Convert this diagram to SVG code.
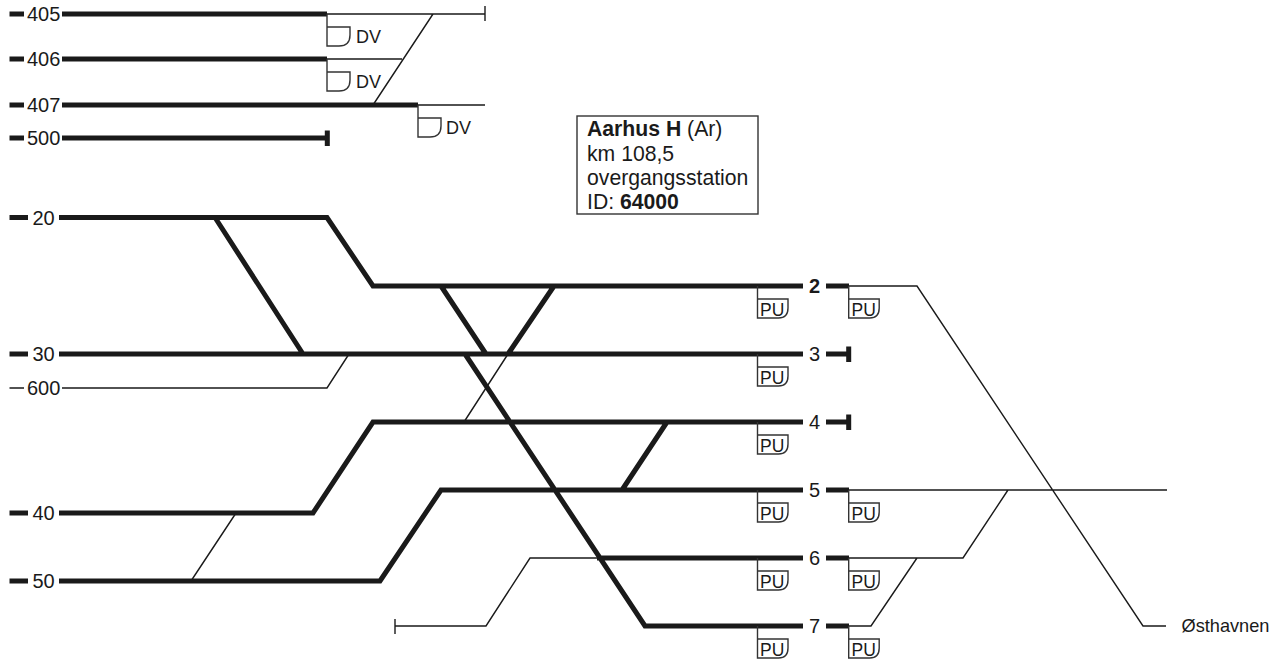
<svg xmlns="http://www.w3.org/2000/svg" width="1275" height="660" viewBox="0 0 1275 660">
<style>
text{font-family:"Liberation Sans",Arial,sans-serif;fill:#1a1a1a}
.t{font-size:20px}.m{font-size:18px}.i{font-size:21.2px}.p{font-size:17.5px}.o{font-size:18.2px}
.k{fill:none;stroke:#1a1a1a;stroke-width:5;stroke-linejoin:miter}
.n{fill:none;stroke:#1a1a1a;stroke-width:1.4}
.g{fill:none;stroke:#333;stroke-width:1.4}
</style>
<defs>
<path id="sig" class="g" d="M0 0V32H21Q30.500 32 30.500 22V13H0"/>
<path id="dv" class="g" d="M0 0V32H12Q23 32 23 21V13H0"/>
</defs>
<rect width="1275" height="660" fill="#fff"/>
<g id="connectors">
<path class="k" d="M62 14H327M62 59H327M62 105H418M62 138H327M59 217.500H327L373 286H803M215 217.500L303 354M59 354H803M441 286L486 354M554 286L508 354M465 354L645 626H803M59 513H313L373 422H803M59 581H380L441 490H803M667 422L622 490M597 558H803"/>
<path class="k" d="M9.500 14H24M9.500 59H24M9.500 105H24M9.500 138H24M9.500 217.500H28M9.500 354H28M9.500 513H28M9.500 581H28M826 286H849M826 354H849M826 422H849M826 490H849M826 558H849M826 626H849"/>
<path class="k" d="M327.300 130.500V146M848.700 346.500V362M848.700 414.500V430"/>
<path class="n" d="M327 14H485M485 6V21M327 59H402M433 14L373 105M418 105H485M9.500 388H24M62 388H327L349 354M508 354L464 422M236 513L191 581M597 558H530L486 626H395M395 619V634M849 286H917L1143 626H1166M849 490H1167M849 558H963L1008 490M849 626H871L917 558"/>
</g>
<g id="signals">
<use href="#dv" x="327" y="14"/><use href="#dv" x="327" y="59"/><use href="#dv" x="418" y="105"/>
<use href="#sig" x="757.500" y="286"/><use href="#sig" x="757.500" y="354"/><use href="#sig" x="757.500" y="422"/><use href="#sig" x="757.500" y="490"/><use href="#sig" x="757.500" y="558"/><use href="#sig" x="757.500" y="626"/>
<use href="#sig" x="848.700" y="286"/><use href="#sig" x="848.700" y="490"/><use href="#sig" x="848.700" y="558"/><use href="#sig" x="848.700" y="626"/>
</g>
<g id="labels">
<text class="t" x="27" y="21">405</text><text class="t" x="27" y="66">406</text><text class="t" x="27" y="112">407</text><text class="t" x="27" y="145">500</text>
<text class="t" x="32.500" y="225">20</text><text class="t" x="32.500" y="361">30</text><text class="t" x="27" y="395">600</text><text class="t" x="32.500" y="520">40</text><text class="t" x="32.500" y="588">50</text>
<text class="m" x="356" y="42.500">DV</text><text class="m" x="356" y="88">DV</text><text class="m" x="446" y="133.500">DV</text>
<text class="t" x="809" y="293" font-weight="bold">2</text><text class="t" x="809" y="361">3</text><text class="t" x="809" y="429">4</text><text class="t" x="809" y="497">5</text><text class="t" x="809" y="565">6</text><text class="t" x="809" y="633">7</text>
<text class="p" x="760" y="316">PU</text><text class="p" x="760" y="384">PU</text><text class="p" x="760" y="452">PU</text><text class="p" x="760" y="520">PU</text><text class="p" x="760" y="588">PU</text><text class="p" x="760" y="656">PU</text>
<text class="p" x="851.500" y="316">PU</text><text class="p" x="851.500" y="520">PU</text><text class="p" x="851.500" y="588">PU</text><text class="p" x="851.500" y="656">PU</text>
<text class="o" x="1181.500" y="632">Østhavnen</text>
</g>
<g id="station">
<rect x="577" y="116" width="181" height="98" fill="#fff" stroke="#333" stroke-width="1.4"/>
<text class="i" x="587" y="136"><tspan font-weight="bold">Aarhus H</tspan> (Ar)</text>
<text class="i" x="587" y="161">km 108,5</text>
<text class="i" x="587" y="185">overgangsstation</text>
<text class="i" x="587" y="209">ID: <tspan font-weight="bold">64000</tspan></text>
</g>
</svg>
